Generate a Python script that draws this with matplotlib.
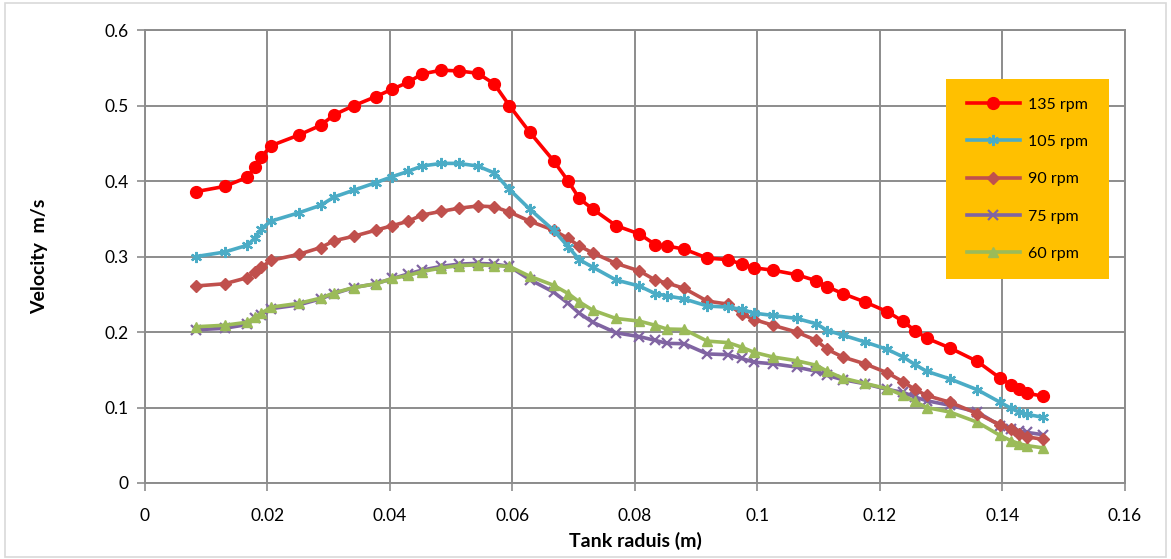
# velocity profiles across the tank radius for five impeller speeds

import matplotlib
matplotlib.use("Agg")
import matplotlib.pyplot as plt
from matplotlib.patches import Rectangle

plt.rcParams['font.family'] = ['Lato', 'DejaVu Sans']

# measurement radii (m)
radius = [0.0083, 0.0130, 0.0167, 0.0180, 0.0190, 0.0206, 0.0251, 0.0287, 0.0309, 0.0341,
          0.0377, 0.0404, 0.0430, 0.0452, 0.0484, 0.0512, 0.0543, 0.0570, 0.0595, 0.0628,
          0.0667, 0.0691, 0.0709, 0.0731, 0.0769, 0.0807, 0.0833, 0.0852, 0.0880, 0.0918,
          0.0952, 0.0974, 0.0995, 0.1025, 0.1064, 0.1096, 0.1114, 0.1139, 0.1175, 0.1212,
          0.1238, 0.1257, 0.1276, 0.1314, 0.1359, 0.1396, 0.1414, 0.1427, 0.1440, 0.1466]

# velocities (m/s)
v135 = [0.386, 0.393, 0.405, 0.419, 0.432, 0.447, 0.461, 0.474, 0.488, 0.500,
        0.512, 0.522, 0.531, 0.542, 0.547, 0.546, 0.543, 0.529, 0.500, 0.465,
        0.427, 0.400, 0.377, 0.363, 0.341, 0.330, 0.316, 0.314, 0.310, 0.298,
        0.296, 0.290, 0.285, 0.282, 0.276, 0.268, 0.260, 0.251, 0.240, 0.227,
        0.214, 0.202, 0.192, 0.179, 0.161, 0.139, 0.130, 0.124, 0.119, 0.115]
v105 = [0.300, 0.306, 0.315, 0.325, 0.337, 0.347, 0.358, 0.368, 0.379, 0.388,
        0.398, 0.406, 0.413, 0.420, 0.4235, 0.4235, 0.420, 0.411, 0.389, 0.363,
        0.335, 0.313, 0.296, 0.286, 0.269, 0.261, 0.251, 0.248, 0.244, 0.2345,
        0.233, 0.230, 0.225, 0.222, 0.218, 0.211, 0.202, 0.196, 0.187, 0.177,
        0.167, 0.157, 0.148, 0.138, 0.1235, 0.107, 0.099, 0.094, 0.091, 0.087]
v90 = [0.261, 0.264, 0.272, 0.280, 0.286, 0.295, 0.303, 0.312, 0.321, 0.327,
       0.335, 0.341, 0.347, 0.355, 0.360, 0.364, 0.367, 0.366, 0.359, 0.347,
       0.335, 0.324, 0.314, 0.305, 0.291, 0.281, 0.269, 0.265, 0.258, 0.241,
       0.237, 0.224, 0.2165, 0.209, 0.200, 0.189, 0.177, 0.167, 0.158, 0.146,
       0.134, 0.124, 0.116, 0.107, 0.092, 0.077, 0.071, 0.065, 0.061, 0.058]
v75 = [0.203, 0.205, 0.210, 0.218, 0.223, 0.231, 0.236, 0.244, 0.251, 0.259,
       0.264, 0.271, 0.277, 0.282, 0.287, 0.290, 0.291, 0.290, 0.287, 0.2696,
       0.253, 0.238, 0.225, 0.213, 0.199, 0.194, 0.189, 0.185, 0.1846, 0.171,
       0.170, 0.165, 0.160, 0.158, 0.1535, 0.148, 0.1425, 0.137, 0.1315, 0.124,
       0.120, 0.114, 0.109, 0.103, 0.094, 0.076, 0.072, 0.069, 0.067, 0.064]
v60 = [0.207, 0.209, 0.213, 0.220, 0.225, 0.233, 0.238, 0.245, 0.252, 0.259,
       0.264, 0.271, 0.275, 0.280, 0.285, 0.288, 0.289, 0.288, 0.287, 0.274,
       0.262, 0.251, 0.240, 0.229, 0.218, 0.2145, 0.209, 0.204, 0.2035, 0.188,
       0.186, 0.180, 0.173, 0.167, 0.162, 0.156, 0.148, 0.139, 0.132, 0.125,
       0.116, 0.108, 0.100, 0.094, 0.0805, 0.063, 0.056, 0.052, 0.0495, 0.0465]

labels = ['135 rpm', '105 rpm', '90 rpm', '75 rpm', '60 rpm']

fig = plt.figure(figsize=(11.71, 5.59), dpi=100)
ax = fig.add_axes([0.1238, 0.136, 0.8369, 0.810])

# outer chart border
fig.patches.append(Rectangle((0.004, 0.004), 0.992, 0.990, transform=fig.transFigure,
                             fill=False, edgecolor='#d9d9d9', linewidth=1.2))

grid_c = '#8c8c8c'
ax.plot(radius, v135, color='#ff0000', marker='o', markersize=8.5, lw=2.6, label=labels[0], zorder=6)
ax.plot(radius, v105, color='#4bacc6', marker=(6, 2, 0), markersize=8, mew=1.6, lw=2.6, label=labels[1], zorder=5)
ax.plot(radius, v90, color='#c0504d', marker='D', markersize=6, lw=2.6, label=labels[2], zorder=4)
ax.plot(radius, v75, color='#8064a2', marker='x', markersize=6.5, mew=1.6, lw=2.6, label=labels[3], zorder=3)
ax.plot(radius, v60, color='#9bbb59', marker='^', markersize=7, lw=2.6, label=labels[4], zorder=3)

ax.set_xlim(0, 0.16)
ax.set_ylim(0, 0.6)
ax.set_xticks([0, 0.02, 0.04, 0.06, 0.08, 0.1, 0.12, 0.14, 0.16])
ax.set_xticklabels(['0', '0.02', '0.04', '0.06', '0.08', '0.1', '0.12', '0.14', '0.16'])
ax.set_yticks([0, 0.1, 0.2, 0.3, 0.4, 0.5, 0.6])
ax.set_yticklabels(['0', '0.1', '0.2', '0.3', '0.4', '0.5', '0.6'])
ax.grid(True, color=grid_c, linewidth=1.4)
ax.set_axisbelow(True)
for s in ax.spines.values():
    s.set_color(grid_c)
    s.set_linewidth(1.4)
ax.tick_params(direction='out', length=6, width=1.2, color=grid_c, labelsize=12.5, pad=6)
ax.tick_params(axis='x', pad=12)

ax.set_xlabel('Tank raduis (m)', fontsize=14, fontweight='bold', labelpad=6)
ax.set_ylabel('Velocity  m/s', fontsize=14, fontweight='bold', labelpad=40)

# legend on an orange panel
ax.add_patch(Rectangle((0.817, 0.45), 0.167, 0.442, transform=ax.transAxes,
                       facecolor='#ffc000', edgecolor='none', zorder=8))
leg = ax.legend(loc='center', bbox_to_anchor=(0.9005, 0.671), frameon=False,
                fontsize=11.5, handlelength=3.3, labelspacing=1.45, handletextpad=0.5)
leg.set_zorder(9)

fig.savefig('out.png', dpi=100)
